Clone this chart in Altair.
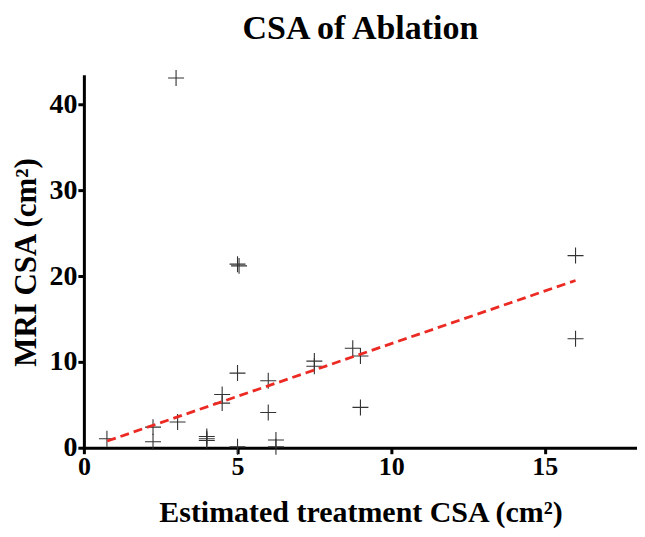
import altair as alt
import pandas as pd

# Estimated treatment CSA (cm^2) vs MRI CSA (cm^2)
est_csa = [3.0, 5.0, 5.05, 16.0, 16.0, 8.75, 9.0, 7.5, 7.5, 5.0, 6.0, 4.5, 4.5,
           6.0, 9.0, 3.05, 2.25, 2.25, 0.75, 4.0, 4.0, 4.0, 5.0, 6.25, 6.25]
mri_csa = [43.1, 21.4, 21.2, 22.4, 12.7, 11.6, 10.7, 10.1, 9.5, 8.7, 7.8, 6.2, 5.2,
           4.1, 4.7, 3.0, 2.4, 0.7, 1.05, 1.3, 1.05, 0.85, 0.1, 0.9, 0.1]

# fitted line (as drawn in the figure)
fit_slope = 1.228
fit_intercept = -0.15
fit_x = [0.76, 16.0]

x_ticks = [0, 5, 10, 15]
y_ticks = [0, 10, 20, 30, 40]

pts = pd.DataFrame({"x": est_csa, "y": mri_csa})
fit = pd.DataFrame({"x": fit_x})

FONT = "Liberation Serif"

xs = alt.Scale(domain=[0, 18.0], nice=False, zero=False)
ys = alt.Scale(domain=[0, 43.3], nice=False, zero=False)

xaxis = alt.Axis(values=x_ticks, title="Estimated treatment CSA (cm²)",
                 labelFontSize=26, labelPadding=0, titleFontSize=30, titlePadding=18)
yaxis = alt.Axis(values=y_ticks, title="MRI CSA (cm²)",
                 labelFontSize=28, labelPadding=1, titleFontSize=31, titlePadding=6)

points = alt.Chart(pts).mark_point(
    shape="M-1,0L1,0M0,-1L0,1", filled=False, stroke="#333333", strokeWidth=1.1,
    size=256, opacity=1
).encode(
    x=alt.X("x:Q", scale=xs, axis=xaxis),
    y=alt.Y("y:Q", scale=ys, axis=yaxis),
)

line = alt.Chart(fit).transform_calculate(
    y=f"{fit_slope} * datum.x + {fit_intercept}"
).mark_line(color="#ec2a24", strokeWidth=2.8, strokeDash=[9, 5]).encode(
    x=alt.X("x:Q", scale=xs, axis=xaxis),
    y=alt.Y("y:Q", scale=ys, axis=yaxis),
)

chart = alt.layer(points, line).properties(
    width=554, height=372, background="white",
    padding={"top": 3, "left": 3, "right": 0, "bottom": 5},
    title=alt.TitleParams("CSA of Ablation", font=FONT, fontSize=34, fontWeight="bold",
                          color="black", anchor="middle", offset=22),
).configure_view(strokeWidth=0, stroke=None).configure_axis(
    grid=False, domainWidth=3, domainColor="black", tickWidth=3, tickSize=6,
    tickColor="black", labelFont=FONT, labelFontWeight="bold", labelColor="black",
    titleFont=FONT, titleFontWeight="bold", titleColor="black", labelFlush=False,
    domainCap="square"
)

chart.save("out.html", embed_options={"renderer": "svg", "actions": False})
